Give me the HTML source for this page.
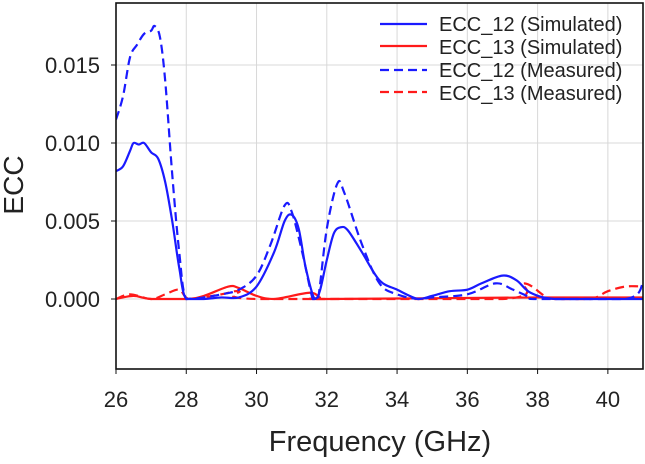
<!DOCTYPE html>
<html><head><meta charset="utf-8"><style>
body{margin:0;background:#fff;font-family:"Liberation Sans",Arial,sans-serif}
svg text{font-family:"Liberation Sans",Arial,sans-serif}
</style></head><body>
<svg id="chart" width="645" height="459" viewBox="0 0 645 459"></svg>
<script>
const xTicks=[26,28,30,32,34,36,38,40];
const yTicks=[0.000,0.005,0.010,0.015];
const yTickLabels=["0.000","0.005","0.010","0.015"];
const ecc12SimF=[26,26.2,26.4,26.5,26.65,26.8,27,27.2,27.4,27.6,27.8,28,28.5,29,29.5,30,30.5,30.8,31,31.2,31.4,31.65,31.8,32,32.2,32.4,32.6,33,33.5,34,34.6,35,35.5,36,36.4,37,37.4,37.8,38.5,40,41];
const ecc12SimV=[0.0082,0.0085,0.0095,0.0100,0.0099,0.0100,0.0094,0.0090,0.0075,0.005,0.002,0.0,0.0,0.0001,0.0001,0.0008,0.003,0.0050,0.0054,0.0045,0.002,0.0,0.0005,0.0025,0.0042,0.0046,0.0044,0.0030,0.0012,0.0006,0.0,0.0002,0.0005,0.0006,0.0010,0.0015,0.0012,0.0004,0.0,0.0,0.0];
const ecc12MeasF=[26,26.2,26.4,26.6,26.8,27,27.1,27.25,27.4,27.6,27.8,28,28.5,29,29.5,30,30.4,30.8,31,31.3,31.6,31.75,32,32.3,32.5,33,33.5,34,34.6,35,36,36.8,37.3,37.8,38,40.5,41];
const ecc12MeasV=[0.0115,0.013,0.0155,0.0163,0.0170,0.0172,0.0175,0.0168,0.014,0.008,0.003,0.0,0.0001,0.0003,0.0006,0.0015,0.0035,0.0060,0.0056,0.003,0.0,0.0,0.0045,0.0074,0.0068,0.0035,0.0010,0.0003,0.0,0.0001,0.0003,0.0010,0.0006,0.0001,0.0,0.0,0.0010];
const ecc13SimF=[26,26.5,27,28,28.5,29.2,29.5,30,30.5,31.5,31.8,32,38,41];
const ecc13SimV=[0,0.0002,0,0,0.0002,0.0008,0.0007,0.0002,0,0.0004,0.0001,0,0.0001,0.0001];
const ecc13MeasF=[26,26.4,27,27.4,27.8,28.1,29,29.5,30,37,37.6,38.2,38.5,39.5,40,40.5,41];
const ecc13MeasV=[0,0.0003,0,0.0003,0.0006,0,0.0003,0.0005,0,0,0.0010,0.0002,0,0,0.0005,0.0008,0.0008];

const L=116,R=643,T=3,B=369;
const sx=f=>L+(f-26)/(41-26)*(R-L);
const sy=v=>299-v/0.005*78;
const svg=document.getElementById('chart');
const NS='http://www.w3.org/2000/svg';
function el(t,a){const e=document.createElementNS(NS,t);for(const k in a)e.setAttribute(k,a[k]);svg.appendChild(e);return e;}
xTicks.forEach(t=>{if(t===26)return;const g=el('line',{x1:sx(t),x2:sx(t),y1:T,y2:B,stroke:'#d8d8d8','stroke-width':1});

});
yTicks.forEach(t=>{const g=el('line',{x1:L,x2:R,y1:sy(t),y2:sy(t),stroke:'#d8d8d8','stroke-width':1});

});
function path(F,V,color,dash,name){
  const p=F.map((f,i)=>[sx(f),sy(V[i])]);
  const y0=sy(0);
  const c=y=>Math.min(y,y0);
  let d='M'+p[0][0]+','+p[0][1];
  for(let i=0;i<p.length-1;i++){const p0=p[i-1]||p[i],p1=p[i],p2=p[i+1],p3=p[i+2]||p2;
    d+=` C${p1[0]+(p2[0]-p0[0])/6},${c(p1[1]+(p2[1]-p0[1])/6)} ${p2[0]-(p3[0]-p1[0])/6},${c(p2[1]-(p3[1]-p1[1])/6)} ${p2[0]},${p2[1]}`;}
  const e=el('path',{d:d,fill:'none',stroke:color,'stroke-width':2.2,'stroke-dasharray':dash||'none','clip-path':'url(#clip)'});
  
  
}
const cp=el('clipPath',{id:'clip'});const cr=document.createElementNS(NS,'rect');
cr.setAttribute('x',L);cr.setAttribute('y',T);cr.setAttribute('width',R-L);cr.setAttribute('height',B-T);cp.appendChild(cr);
path(ecc13SimF,ecc13SimV,'#ff1a1a',null,'ecc13-simulated-line');
path(ecc13MeasF,ecc13MeasV,'#ff1a1a','9,5','ecc13-measured-line');
path(ecc12SimF,ecc12SimV,'#1a1aff',null,'ecc12-simulated-line');
path(ecc12MeasF,ecc12MeasV,'#1a1aff','9,5','ecc12-measured-line');
const fr=el('rect',{x:L,y:T,width:R-L,height:B-T,fill:'none',stroke:'#111','stroke-width':1.6});


xTicks.forEach(t=>{const k=el('line',{x1:sx(t),x2:sx(t),y1:B,y2:B+5,stroke:'#111'});


const tx=el('text',{x:sx(t),y:B+38,'font-size':22,'text-anchor':'middle',fill:'#222'});tx.textContent=t;

});
yTicks.forEach((t,i)=>{const k=el('line',{x1:L-5,x2:L,y1:sy(t),y2:sy(t),stroke:'#111'});


const tx=el('text',{x:L-16,y:sy(t)+8,'font-size':22,'text-anchor':'end',fill:'#222'});tx.textContent=yTickLabels[i];

});
</script>
<svg style="position:absolute;left:0;top:0" width="645" height="459">
<text x="23" y="185" font-size="28" text-anchor="middle" transform="rotate(-90 23 185)" fill="#222">ECC</text>
<text x="380" y="451" font-size="29" text-anchor="middle" fill="#222">Frequency (GHz)</text>
<g font-size="20" fill="#222">
<g><line x1="380" x2="427" y1="24" y2="24" stroke="#1a1aff" stroke-width="2.2"/><text x="439" y="31">ECC_12 (Simulated)</text></g>
<g><line x1="380" x2="427" y1="46" y2="46" stroke="#ff1a1a" stroke-width="2.2"/><text x="439" y="54">ECC_13 (Simulated)</text></g>
<g><line x1="380" x2="427" y1="70" y2="70" stroke="#1a1aff" stroke-width="2.2" stroke-dasharray="9,5"/><text x="439" y="77">ECC_12 (Measured)</text></g>
<g><line x1="380" x2="427" y1="92" y2="92" stroke="#ff1a1a" stroke-width="2.2" stroke-dasharray="9,5"/><text x="439" y="100">ECC_13 (Measured)</text></g>
</g>
</svg>
</body></html>
